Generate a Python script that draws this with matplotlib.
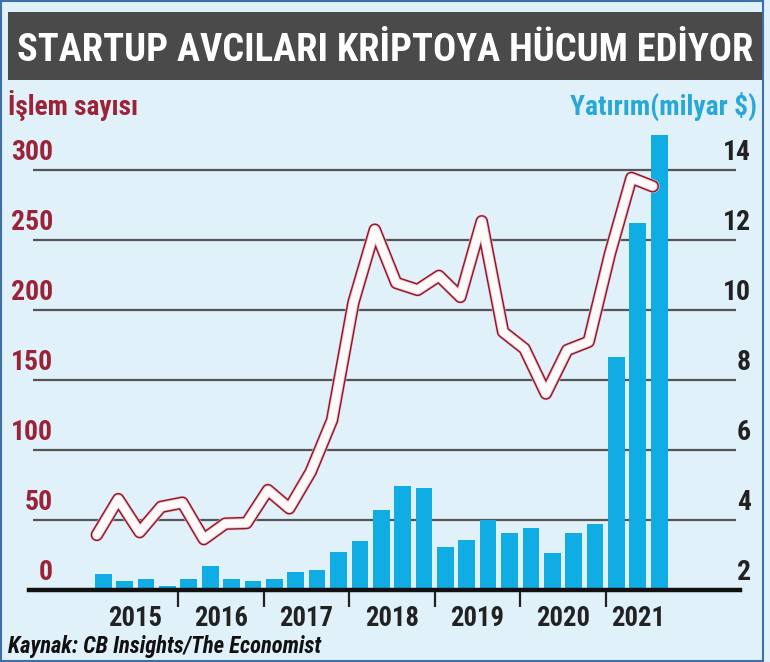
import matplotlib
matplotlib.use('Agg')
import matplotlib.pyplot as plt
from matplotlib.patches import Rectangle

# ---------------- data ----------------
quarters = list(range(1, 28))  # 2015 Q1 ... 2021 Q3
investment = [2.43, 2.24, 2.31, 2.10, 2.31, 2.66, 2.31, 2.24, 2.31, 2.50,
              2.55, 3.06, 3.39, 4.27, 4.96, 4.90, 3.22, 3.41, 3.98, 3.62,
              3.76, 3.03, 3.62, 3.87, 8.65, 12.46, 14.98]
deals = [39, 64.5, 41, 59, 62, 36, 47, 47.5, 71, 58,
         84, 121, 205, 257, 219, 214, 224, 209, 263, 184,
         172, 140, 171, 177, 240, 294, 288]
years = ['2015', '2016', '2017', '2018', '2019', '2020', '2021']
year_centers = [2.5, 6.5, 10.5, 14.5, 18.5, 22.5, 26]
year_bounds = [4.5, 8.5, 12.5, 16.5, 20.5, 24.5]
left_ticks = [0, 50, 100, 150, 200, 250, 300]
right_ticks = [2, 4, 6, 8, 10, 12, 14]

title = 'STARTUP AVCILARI KRİPTOYA HÜCUM EDİYOR'
left_label = 'İşlem sayısı'
right_label = 'Yatırım(milyar $)'
source = 'Kaynak: CB Insights/The Economist'

# ---------------- style ----------------
plt.rcParams['font.family'] = ['Roboto Condensed', 'Roboto', 'DejaVu Sans']
plt.rcParams['font.stretch'] = 'condensed'
BG = '#e0f1fa'
MAROON = '#9b2337'
CYAN = '#29a8d8'
BAR = '#0fade3'
DARK = '#222222'

W, H, DPI = 770, 662, 100
fig = plt.figure(figsize=(W / DPI, H / DPI), dpi=DPI, facecolor=BG)
renderer = fig.canvas.get_renderer()


def fx(px):
    return px / W


def fy(py):
    return 1 - py / H


def fit_size(sample, target_w, weight='bold', style='normal', base=20):
    """font size (pt) at which `sample` is target_w pixels wide"""
    t = fig.text(0, 0, sample, fontsize=base, fontweight=weight, fontstyle=style)
    w = t.get_window_extent(renderer).width
    t.remove()
    return base * target_w / w


# frame and title band
fig.add_artist(Rectangle((fx(1), fy(661)), 762 / W, 660 / H, transform=fig.transFigure,
                         fill=False, edgecolor='#3d6fa8', lw=1.5))
fig.add_artist(Rectangle((fx(8), fy(80)), (762 - 8) / W, (80 - 12) / H,
                         transform=fig.transFigure, facecolor='#4a4a4a', edgecolor='none'))
fs_title = fit_size(title, 734)
cap_px = 0.71 * fs_title * DPI / 72
fig.text(fx(385), fy(47 + cap_px / 2), title, color='white', fontsize=fs_title,
         fontweight='bold', ha='center', va='baseline')

# axes
left_px, right_px, base_px, top_px = 33, 736, 589.5, 130.3
rect = [fx(left_px), fy(base_px), (right_px - left_px) / W, (base_px - top_px) / H]
ax = fig.add_axes(rect)
ax2 = ax.twinx()
ax.set_zorder(ax2.get_zorder() + 1)
ax.patch.set_visible(False)
ax2.patch.set_visible(False)

ax.set_xlim(-2.288, 30.593)
ax.set_ylim(0, 328)
ax2.set_ylim(2, 2 + 328 / 25)

# bars (right scale)
ax2.set_yticks(right_ticks)
ax2.grid(axis='y', color='#555555', lw=1.6)
ax2.set_axisbelow(True)
ax2.bar(quarters, investment, width=0.78, color=BAR, zorder=2)
ax2.tick_params(axis='y', length=0, labelright=False)

# deal-count line (left scale), drawn as outlined white ribbon
line_x = [q - 0.3 for q in quarters]
ax.plot(line_x, deals, color='#f4c4cb', lw=10.0, solid_joinstyle='round',
        solid_capstyle='round', zorder=3, alpha=0.8)
ax.plot(line_x, deals, color='#86192d', lw=9.0, solid_joinstyle='round',
        solid_capstyle='round', zorder=3)
ax.plot(line_x, deals, color='#eeaab5', lw=7.0, solid_joinstyle='round',
        solid_capstyle='round', zorder=4)
ax.plot(line_x, deals, color='#fffafa', lw=5.9, solid_joinstyle='round',
        solid_capstyle='round', zorder=5)

ax.set_yticks(left_ticks)
ax.tick_params(axis='y', length=0, labelleft=False)
ax.set_xticks(year_bounds)
ax.tick_params(axis='x', length=12, width=1.6, color=DARK, direction='out',
               labelbottom=False)
for a in (ax, ax2):
    for s in a.spines.values():
        s.set_visible(False)

ax.axhline(0, color='#111111', lw=3.2, xmin=-0.005, xmax=1.006, clip_on=False, zorder=6)

# tick labels above grid lines
fs_num = fit_size('300', 42)
for v in left_ticks:
    ax.annotate(str(v), xy=(0.0284, v), xycoords=ax.get_yaxis_transform(),
                xytext=(0, 6.5), textcoords='offset points', ha='right', va='baseline',
                fontsize=fs_num, fontweight='bold', color=MAROON, annotation_clip=False)
for v in right_ticks:
    ax2.annotate(str(v), xy=(1.0213, v), xycoords=ax2.get_yaxis_transform(),
                 xytext=(0, 6.5), textcoords='offset points', ha='right', va='baseline',
                 fontsize=fs_num, fontweight='bold', color=DARK, annotation_clip=False)

fs_year = fit_size('2016', 54)
for c, yr in zip(year_centers, years):
    ax.text(c, -36 / (base_px - top_px), yr, transform=ax.get_xaxis_transform(),
            ha='center', va='baseline', fontsize=fs_year, fontweight='bold', color=DARK)

fig.text(fx(8), fy(115), left_label, color=MAROON, fontsize=fit_size(left_label, 130),
         fontweight='bold', ha='left', va='baseline')
fig.text(fx(757), fy(115), right_label, color=CYAN, fontsize=fit_size(right_label, 187),
         fontweight='bold', ha='right', va='baseline')
fig.text(fx(8), fy(653), source, color='#111111',
         fontsize=fit_size(source, 314, style='italic'),
         fontweight='bold', fontstyle='italic', ha='left', va='baseline')

fig.savefig('out.png', dpi=DPI, facecolor=BG)
